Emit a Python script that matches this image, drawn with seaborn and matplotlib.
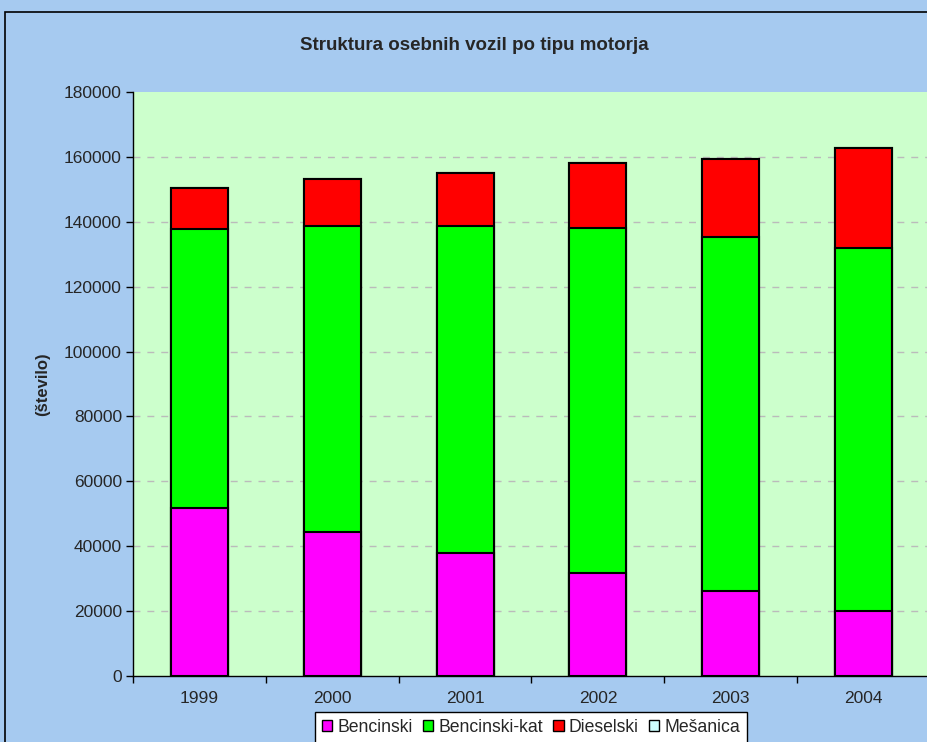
import numpy as np
import pandas as pd
import seaborn as sns
import matplotlib.pyplot as plt
from matplotlib.patches import Rectangle

# values
years = ['1999', '2000', '2001', '2002', '2003', '2004']
bencinski = [51900, 44500, 38000, 31700, 26200, 20000]
bencinski_kat = [85900, 94100, 100700, 106500, 109200, 111800]
dieselski = [12700, 14700, 16300, 19800, 24000, 30800]
mesanica = [0, 0, 0, 0, 0, 0]

series = ['Bencinski', 'Bencinski-kat', 'Dieselski', 'Mešanica']
colors = ['#FF00FF', '#00FF00', '#FF0000', '#CCFFFF']

df = pd.DataFrame({'leto': years, 'Bencinski': bencinski,
                   'Bencinski-kat': bencinski_kat, 'Dieselski': dieselski,
                   'Mešanica': mesanica})

sns.set_style('white')
plt.rcParams['font.family'] = ['Liberation Sans', 'DejaVu Sans']

fig = plt.figure(figsize=(9.28, 7.42), dpi=100)
fig.patch.set_facecolor('#A6CAF0')
ax = fig.add_axes([133 / 928, 1 - 676 / 742, 797 / 928, 584 / 742])
ax.set_facecolor('#CCFFCC')

# stacked bars drawn as cumulative totals, tallest first
cum = df[series].cumsum(axis=1)
for name, col in reversed(list(zip(series, colors))):
    sns.barplot(x=df['leto'], y=cum[name], color=col, width=0.43,
                edgecolor='black', linewidth=1.5, saturation=1, ax=ax,
                zorder=3)

ax.set_ylim(0, 180000)
ax.set_xlim(-0.5, 5.5)
yt = np.arange(0, 180001, 20000)
ax.set_yticks(yt)
for v in yt[1:-1]:
    ax.axhline(v, color='#BBBBBB', linestyle=(0, (5, 5)), linewidth=1, zorder=0)
ax.tick_params(axis='y', which='major', direction='out', length=5, width=1,
               color='black', labelsize=12.5, left=True, pad=3)
ax.set_xticks(np.arange(-0.5, 6, 1), minor=True)
ax.tick_params(axis='x', which='major', length=0, labelsize=12.5, pad=11)
ax.tick_params(axis='x', which='minor', direction='out', length=5, width=1,
               color='black', bottom=True)

for s in ['top', 'right']:
    ax.spines[s].set_visible(False)
for s in ['left', 'bottom']:
    ax.spines[s].set_color('black')
    ax.spines[s].set_linewidth(1)

ax.set_xlabel('')
ax.set_ylabel('(število)', fontsize=12, fontweight='bold', labelpad=10)

fig.text(474 / 928, 1 - 45 / 742, 'Struktura osebnih vozil po tipu motorja',
         ha='center', va='center', fontsize=13.5, fontweight='bold')

handles = [Rectangle((0, 0), 1, 1, facecolor=c, edgecolor='black', linewidth=1)
           for c in colors]
leg = fig.legend(handles, series, loc='upper center', ncol=4,
                 bbox_to_anchor=(531 / 928, 1 - 712 / 742), frameon=True,
                 fancybox=False, edgecolor='black', facecolor='white',
                 fontsize=12.7, handlelength=0.6, handleheight=0.6,
                 handletextpad=0.3, columnspacing=0.55, borderpad=0.4,
                 borderaxespad=0)
leg.get_frame().set_linewidth(1)
leg.get_frame().set_alpha(1)

# outer chart border
fig.patches.append(Rectangle((5 / 928, -0.05), 1.1, 1.05 - 12 / 742,
                             transform=fig.transFigure, facecolor='none',
                             edgecolor='black', linewidth=1.2))

fig.savefig('out.png', dpi=100, facecolor=fig.get_facecolor())
